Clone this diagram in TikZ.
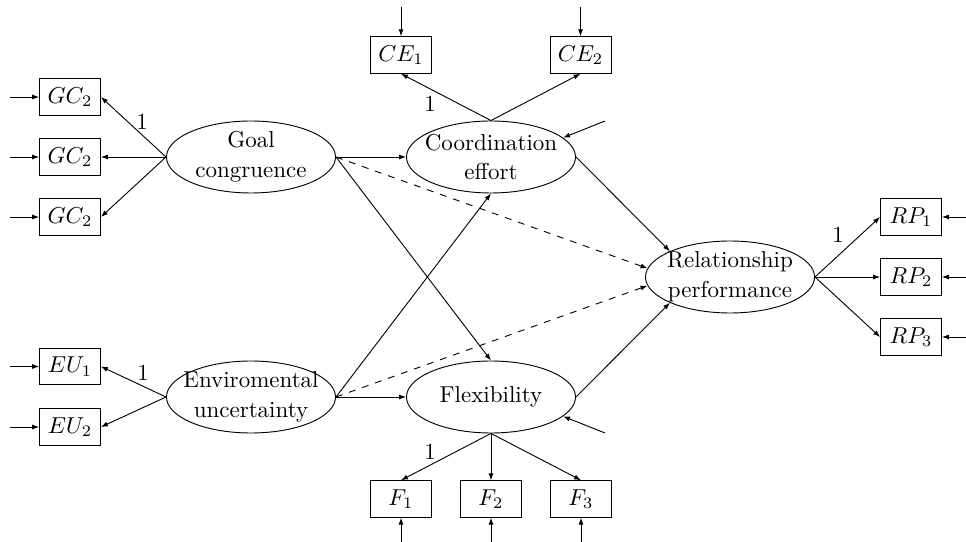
\documentclass[tikz,border=0pt]{standalone}
\usetikzlibrary{shapes.geometric,arrows.meta}
\begin{document}
\begin{tikzpicture}[x=0.43478pt,y=-0.43478pt,
  lat/.style={ellipse,draw,minimum width=73.5pt,minimum height=31.3pt,
              inner xsep=-8pt,inner ysep=0pt,align=center,
              font=\fontsize{10}{13}\selectfont},
  obs/.style={rectangle,draw,minimum width=26.5pt,minimum height=15.9pt,inner sep=2pt},
  arr/.style={-{Latex[length=3pt,width=2.2pt]}},
  dsh/.style={arr,dashed},
  lab/.style={inner sep=0pt}]
\useasboundingbox (0,0) rectangle (966,542);

% latent variables
\node[lat] (gc) at (251,157) {Goal\\congruence};
\node[lat] (ce) at (491,157) {Coordination\\effort};
\node[lat] (rp) at (730,277) {Relationship\\performance};
\node[lat] (eu) at (251,397) {Enviromental\\uncertainty};
\node[lat] (fl) at (491,397) {Flexibility};

% indicators
\node[obs] (gc1) at (70,97)  {$GC_2$};
\node[obs] (gc2) at (70,157) {$GC_2$};
\node[obs] (gc3) at (70,217) {$GC_2$};
\node[obs] (eu1) at (70,366.5) {$EU_1$};
\node[obs] (eu2) at (70,427)   {$EU_2$};
\node[obs] (ce1) at (401,55)   {$CE_1$};
\node[obs] (ce2) at (580.5,55) {$CE_2$};
\node[obs] (f1) at (401,499) {$F_1$};
\node[obs] (f2) at (491,499) {$F_2$};
\node[obs] (f3) at (581,499) {$F_3$};
\node[obs] (rp1) at (911,217) {$RP_1$};
\node[obs] (rp2) at (911,277) {$RP_2$};
\node[obs] (rp3) at (911,337) {$RP_3$};

% free ends of error arrows
\coordinate (gc1i) at (10,97);
\coordinate (gc2i) at (10,157);
\coordinate (gc3i) at (10,217);
\coordinate (eu1i) at (10,366.5);
\coordinate (eu2i) at (10,427);
\coordinate (ce1i) at (401,7);
\coordinate (ce2i) at (580.5,7);
\coordinate (f1i) at (401,547);
\coordinate (f2i) at (491,547);
\coordinate (f3i) at (581,547);
\coordinate (rp1i) at (972,217);
\coordinate (rp2i) at (972,277);
\coordinate (rp3i) at (972,337);
\coordinate (cei) at (605,121);
\coordinate (fli) at (605,433);

% error arrows
\foreach \n in {gc1,gc2,gc3,eu1,eu2}{\draw[arr] (\n i) -- (\n.west);}
\foreach \n in {ce1,ce2}{\draw[arr] (\n i) -- (\n.north);}
\foreach \n in {f1,f2,f3}{\draw[arr] (\n i) -- (\n.south);}
\foreach \n in {rp1,rp2,rp3}{\draw[arr] (\n i) -- (\n.east);}
\draw[arr] (cei) -- (ce.15);
\draw[arr] (fli) -- (fl.-15);

% loadings
\foreach \n in {gc1,gc2,gc3}{\draw[arr] (gc.west) -- (\n.east);}
\foreach \n in {eu1,eu2}{\draw[arr] (eu.west) -- (\n.east);}
\foreach \n in {ce1,ce2}{\draw[arr] (ce.north) -- (\n.south);}
\foreach \n in {f1,f2,f3}{\draw[arr] (fl.south) -- (\n.north);}
\foreach \n in {rp1,rp2,rp3}{\draw[arr] (rp.east) -- (\n.west);}

% structural paths
\draw[arr] (gc.east) -- (ce.west);
\draw[arr] (gc.east) -- (fl.north);
\draw[dsh] (gc.east) -- (rp.174);
\draw[arr] (eu.east) -- (ce.south);
\draw[arr] (eu.east) -- (fl.west);
\draw[dsh] (eu.east) -- (rp.186);
\draw[arr] (ce.east) -- (rp.north west);
\draw[arr] (fl.east) -- (rp.south west);

% fixed loadings
\node[lab] (l1) at (142,122) {1};
\node[lab] (l2) at (430,104) {1};
\node[lab] (l3) at (838,235) {1};
\node[lab] (l4) at (143,373) {1};
\node[lab] (l5) at (430,452) {1};
\end{tikzpicture}
\end{document}
